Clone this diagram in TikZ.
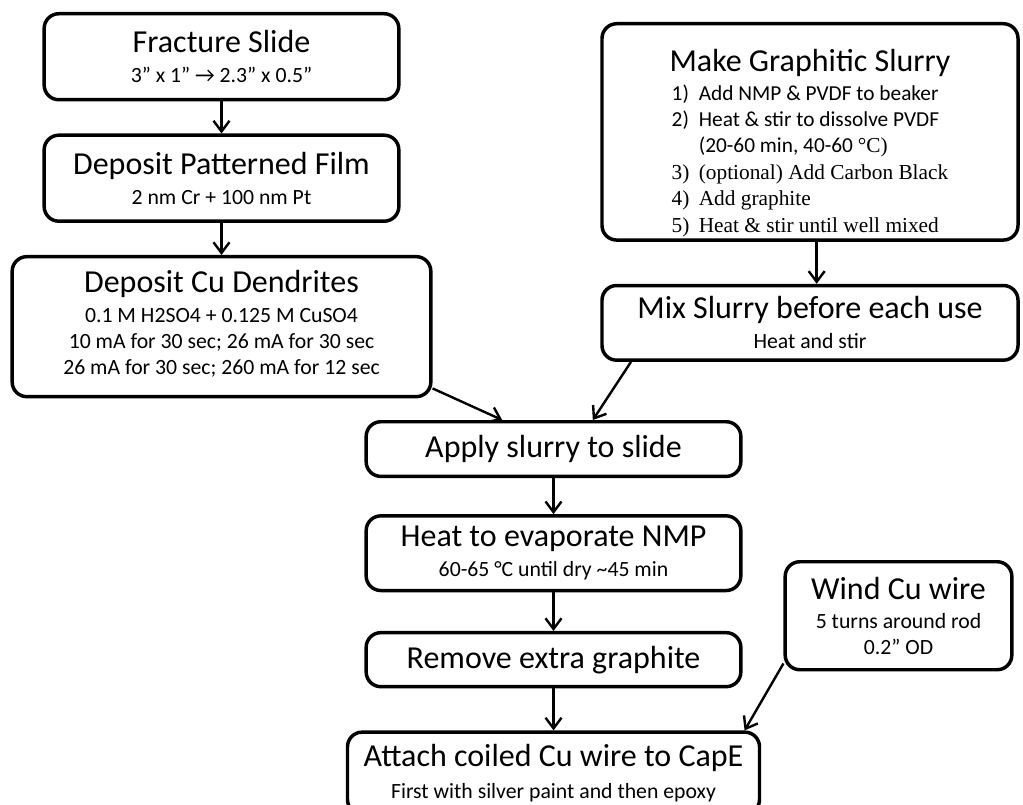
\documentclass[tikz,border=0pt]{standalone}
\usepackage{fontspec}
\setmainfont{Carlito}
\newfontfamily\serifitem{Liberation Serif}
\usepackage{tikz}
\usetikzlibrary{arrows.meta,positioning,calc}

\newcommand{\steptitle}[1]{{\fontsize{24}{26}\selectfont #1}}

\begin{document}
\begin{tikzpicture}[
  x=0.75pt, y=-0.75pt,
  stepbox/.style={draw, line width=2.6pt, rectangle, rounded corners=11pt, align=center, inner sep=2pt, font=\fontsize{16.3}{19.5}\selectfont},
  arr/.style={-{Straight Barb[length=8pt,width=12pt]}, line width=1.8pt},
  node distance=24pt
]
\useasboundingbox (0,0) rectangle (1023,805);

% LEFT: slide preparation
\node[stepbox, minimum width=266pt, minimum height=64.5pt, anchor=north] (frac) at (221.5,12)
  {\steptitle{Fracture Slide}\\[3pt] 3” x 1” → 2.3” x 0.5”};
\node[stepbox, minimum width=266pt, minimum height=64.5pt, below=of frac] (film)
  {\steptitle{Deposit Patterned Film}\\[3pt] 2 nm Cr + 100 nm Pt};
\node[stepbox, minimum width=314pt, minimum height=105pt, below=of film] (cu)
  {\steptitle{Deposit Cu Dendrites}\\[3pt] 0.1 M H2SO4 + 0.125 M CuSO4\\ 10 mA for 30 sec; 26 mA for 30 sec\\ 26 mA for 30 sec; 260 mA for 12 sec\rule[-7pt]{0pt}{7pt}};

% RIGHT: slurry
\node[stepbox, minimum width=312pt, minimum height=162pt, inner ysep=0pt, anchor=north, font=\fontsize{16}{19.8}\selectfont] (slurry) at (810,22)
  {\rule{0pt}{36pt}{\fontsize{24}{26}\selectfont Make Graphitic Slurry}\\[1.5pt]
   \begin{tabular}[t]{@{}l@{\hspace{7pt}}l@{}}
   1) & Add NMP \& PVDF to beaker\\
   2) & Heat \& stir to dissolve PVDF\\
      & (20-60 min, 40-60 {\serifitem °C)}\\
   {\serifitem 3)} & {\serifitem (optional) Add Carbon Black}\\
   {\serifitem 4)} & {\serifitem Add graphite}\\
   {\serifitem 5)} & {\serifitem Heat \& stir until well mixed}
   \end{tabular}};
\node[stepbox, minimum width=312pt, minimum height=56pt, below=31.5pt of slurry] (mix)
  {\steptitle{Mix Slurry before each use}\\[3pt] Heat and stir};

% CENTRE: coating and assembly
\node[stepbox, minimum width=281pt, minimum height=41pt, anchor=north] (apply) at (553.5,420)
  {\steptitle{Apply slurry to slide}};
\node[stepbox, minimum width=281pt, minimum height=56pt, below=27pt of apply] (heat)
  {\steptitle{Heat to evaporate NMP}\\[3pt] 60-65 °C until dry \textasciitilde45 min};
\node[stepbox, minimum width=281pt, minimum height=40.5pt, below=29pt of heat] (remove)
  {\steptitle{Remove extra graphite}};
\node[stepbox, minimum width=309pt, minimum height=61.5pt, below=31.5pt of remove] (attach)
  {\steptitle{Attach coiled Cu wire to CapE}\\[4pt] First with silver paint and then epoxy};

% wire
\node[stepbox, minimum width=170pt, minimum height=81pt, anchor=north] (wind) at (898.5,560)
  {\steptitle{Wind Cu wire}\\[2pt] 5 turns around rod\\ 0.2” OD};

% connectors
\draw[arr] (frac.south) -- (film.north);
\draw[arr] (film.south) -- (cu.north);
\draw[arr] ([xshift=5pt]slurry.south) -- ([xshift=5pt]mix.north);
\draw[arr] ([yshift=7.5pt]cu.south east) -- ([xshift=-38.5pt]apply.north);
\draw[arr] ([xshift=23pt]mix.south west) -- ([xshift=29.5pt]apply.north);
\draw[arr] (apply.south) -- (heat.north);
\draw[arr] (heat.south) -- (remove.north);
\draw[arr] (remove.south) -- (attach.north);
\draw[arr] ([yshift=6pt]wind.south west) -- ([xshift=-12.5pt]attach.north east);

\end{tikzpicture}
\end{document}
